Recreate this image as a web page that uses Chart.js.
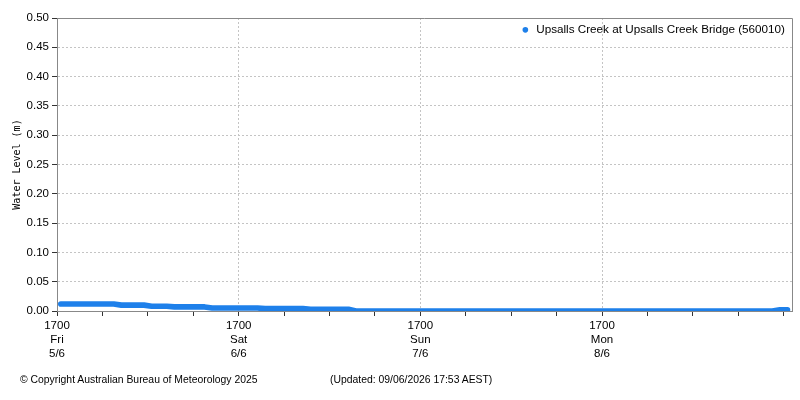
<!DOCTYPE html>
<html>
<head>
<meta charset="utf-8">
<script src="https://cdn.jsdelivr.net/npm/chart.js@4.4.0/dist/chart.umd.min.js"></script>
<style>
html,body{margin:0;padding:0;background:#fff;}
#wrap{position:relative;width:800px;height:400px;overflow:hidden;}
canvas{position:absolute;left:0;top:0;}
.foot{position:absolute;top:373px;font-family:"Liberation Sans",Arial,sans-serif;font-size:10.4px;color:#000;white-space:nowrap;line-height:13px;}
</style>
</head>
<body>
<div id="wrap">
<canvas id="c" width="800" height="400"></canvas>
<div class="foot" style="left:20px">© Copyright Australian Bureau of Meteorology 2025</div>
<div class="foot" style="left:330px">(Updated: 09/06/2026 17:53 AEST)</div>
</div>
<script>
// Hours since 17:00 Fri 5/6
const hours = [0.5,1.5,2.5,3.5,4.5,5.5,6.5,7.5,8.5,9.5,10.5,11.5,12.5,13.5,14.5,15.5,16.5,17.5,18.5,19.5,
20.5,21.5,22.5,23.5,24.5,25.5,26.5,27.5,28.5,29.5,30.5,31.5,32.5,33.5,34.5,35.5,36.5,37.5,38.5,39.5,
40.5,41.5,42.5,43.5,44.5,45.5,46.5,47.5,48.5,49.5,50.5,51.5,52.5,53.5,54.5,55.5,56.5,57.5,58.5,59.5,
60.5,61.5,62.5,63.5,64.5,65.5,66.5,67.5,68.5,69.5,70.5,71.5,72.5,73.5,74.5,75.5,76.5,77.5,78.5,79.5,
80.5,81.5,82.5,83.5,84.5,85.5,86.5,87.5,88.5,89.5,90.5,91.5,92.5,93.5,94.5,95.5,96.5];
// Water level (m)
const levels = [0.012,0.012,0.012,0.012,0.012,0.012,0.012,0.012,0.010,0.010,0.010,0.010,0.008,0.008,0.008,0.007,0.007,0.007,0.007,0.007,
0.005,0.005,0.005,0.005,0.005,0.005,0.005,0.004,0.004,0.004,0.004,0.004,0.004,0.003,0.003,0.003,0.003,0.003,0.003,0.000,
0.000,0.000,0.000,0.000,0.000,0.000,0.000,0.000,0.000,0.000,0.000,0.000,0.000,0.000,0.000,0.000,0.000,0.000,0.000,0.000,
0.000,0.000,0.000,0.000,0.000,0.000,0.000,0.000,0.000,0.000,0.000,0.000,0.000,0.000,0.000,0.000,0.000,0.000,0.000,0.000,
0.000,0.000,0.000,0.000,0.000,0.000,0.000,0.000,0.000,0.000,0.000,0.000,0.000,0.000,0.000,0.002,0.002];
const seriesName = 'Upsalls Creek at Upsalls Creek Bridge (560010)';
const xTickHours = [0,6,12,18,24,30,36,42,48,54,60,66,72,78,84,90,96];
const dayHours = [0,24,48,72];
const timeLabels = ['1700','1700','1700','1700'];
const dayLabels = ['Fri','Sat','Sun','Mon'];
const dateLabels = ['5/6','6/6','7/6','8/6'];
const yTicks = [0,0.05,0.10,0.15,0.20,0.25,0.30,0.35,0.40,0.45,0.50];
const xMax = 97.1;

const BLUE = '#1E80EA';
const tickFont = {family:'"Liberation Sans", Arial, sans-serif', size:11.5};
const LEGEND_PAD = 6;

const framePlugin = {
  id:'frame',
  afterLayout(chart){
    // put the legend inside the plot area, top-right
    const lg = chart.legend, a = chart.chartArea;
    if (!lg || !lg.legendHitBoxes || !lg.legendHitBoxes.length) return;
    const itemW = lg.legendHitBoxes[0].width;
    const w = lg.width;
    lg.left = a.right - 7 - itemW - LEGEND_PAD;
    lg.right = lg.left + w;
    lg.top = a.top;
    lg.bottom = a.top + lg.height;
  },
  afterDatasetsDraw(chart){
    const {ctx, chartArea:a} = chart;
    ctx.save();
    ctx.strokeStyle = '#888';
    ctx.lineWidth = 1;
    ctx.beginPath();
    ctx.moveTo(a.left, a.top + 0.5);
    ctx.lineTo(Math.round(a.right) + 0.5, a.top + 0.5);
    ctx.lineTo(Math.round(a.right) + 0.5, a.bottom);
    ctx.stroke();
    ctx.restore();
  }
};

new Chart(document.getElementById('c'), {
  type:'line',
  data:{
    datasets:[{
      label: seriesName,
      data: hours.map((h,i)=>({x:h, y:levels[i]})),
      borderColor: BLUE,
      backgroundColor: BLUE,
      borderWidth: 5.6,
      borderCapStyle:'round',
      borderJoinStyle:'round',
      pointRadius: 0,
      pointStyle:'circle',
      fill:false,
      tension:0,
      clip: 0
    }]
  },
  options:{
    responsive:false,
    animation:false,
    devicePixelRatio:1,
    layout:{padding:{left:0, top:18, right:8, bottom:0}},
    plugins:{
      tooltip:{enabled:false},
      legend:{
        position:'chartArea',
        align:'start',
        labels:{
          usePointStyle:true,
          boxHeight:4,
          boxWidth:10,
          padding:LEGEND_PAD,
          color:'#000',
          font:{family:'"Liberation Sans", Arial, sans-serif', size:11.7},
          generateLabels(chart){
            const items = Chart.defaults.plugins.legend.labels.generateLabels(chart);
            items.forEach(it=>{ it.lineWidth = 0; it.strokeStyle = BLUE; it.fillStyle = BLUE; it.pointStyle='circle'; });
            return items;
          }
        }
      }
    },
    scales:{
      x:{
        type:'linear',
        min:0,
        max:xMax,
        afterFit(s){ s.height = 89; },
        afterBuildTicks(s){ s.ticks = xTickHours.map(v=>({value:v})); },
        ticks:{
          autoSkip:false,
          maxRotation:0,
          padding:3,
          color:'#000',
          font:Object.assign({lineHeight:1.2}, tickFont),
          callback(v){
            const i = dayHours.indexOf(v);
            return i >= 0 ? [timeLabels[i], dayLabels[i], dateLabels[i]] : '';
          }
        },
        grid:{
          color(ctx){ return (ctx.tick && dayHours.indexOf(ctx.tick.value) > 0) ? '#c4c4c4' : 'rgba(0,0,0,0)'; },
          tickColor:'#333',
          tickLength:5,
          lineWidth:1
        },
        border:{color:'#888', width:1, dash:[2,2]}
      },
      y:{
        min:0,
        max:0.5,
        afterFit(s){ s.width = 57; },
        afterBuildTicks(s){ s.ticks = yTicks.map(v=>({value:v})); },
        ticks:{
          color:'#000',
          font:tickFont,
          padding:3,
          callback(v){ return v.toFixed(2); }
        },
        grid:{
          color:'#c4c4c4',
          tickColor:'#333',
          tickLength:5,
          lineWidth:1
        },
        border:{color:'#888', width:1, dash:[2,2]},
        title:{
          display:true,
          text:'Water Level (m)',
          color:'#000',
          font:{family:'"DejaVu Sans Mono", monospace', size:10},
          padding:{top:11, bottom:0}
        }
      }
    }
  },
  plugins:[framePlugin]
});
</script>
</body>
</html>
